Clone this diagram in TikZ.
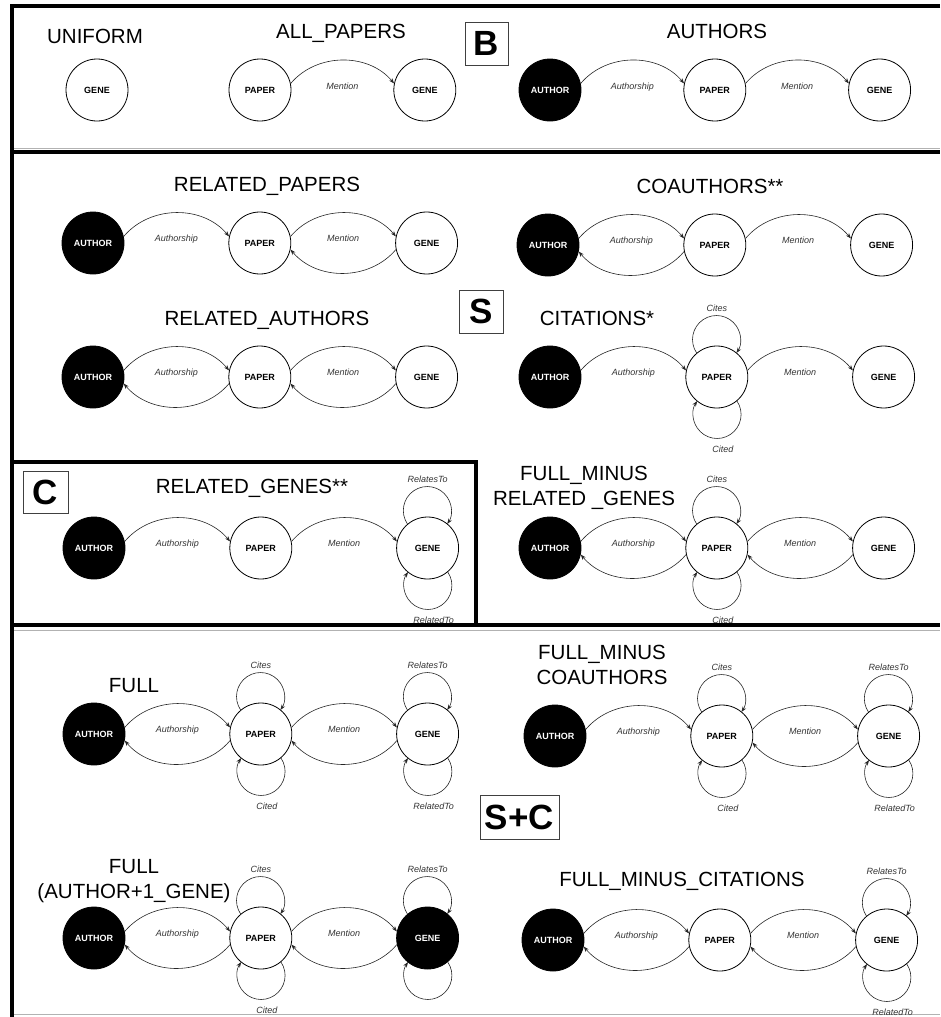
\documentclass[tikz,border=0pt]{standalone}
\usepackage{fontspec}
\setmainfont{Liberation Sans}
\usetikzlibrary{arrows.meta,positioning}

\begin{document}
\begin{tikzpicture}[
    x=1pt,y=-1pt,
    node distance=104pt,
    ent/.style={circle,draw,line width=0.8pt,minimum size=62pt,inner sep=0pt,font=\bfseries\fontsize{9}{10}\selectfont},
    dark/.style={ent,fill=black,text=white},
    ttl/.style={font=\fontsize{20.5}{24.5}\selectfont,align=center,anchor=base,inner sep=0pt},
    lbl/.style={font=\itshape\fontsize{9}{10}\selectfont,text=black!80,anchor=base,inner sep=0pt},
    tag/.style={draw=black!75,line width=0.8pt,font=\bfseries\fontsize{35}{35}\selectfont,inner sep=0pt,minimum height=43pt},
    arrow/.style={-{Stealth[length=5.5pt,width=4pt]},line width=0.6pt,draw=black!85},
    frame/.style={line width=3.5pt,line join=miter}
]
    \useasboundingbox (0,0) rectangle (940,1017);

    % frames
    \draw[frame] (940,6) -- (12,6) -- (12,1017);
    \draw[gray!60,line width=0.8pt] (14,148) -- (940,148);
    \draw[frame] (12,152) -- (940,152);
    \draw[frame] (12,462) -- (476,462) -- (476,625);
    \draw[frame] (12,625) -- (940,625);
    \draw[gray!60,line width=0.8pt] (14,630) -- (940,630);
    \draw[gray!60,line width=0.8pt] (14,1014) -- (940,1014);

    % tags
    \node[tag,minimum width=43pt] (tagB) at (486.5,43.5) {B};
    \node[tag,minimum width=44pt] (tagS) at (481,311.5) {S};
    \node[tag,minimum width=45pt,minimum height=42pt] (tagC) at (45.5,492) {C};
    \node[tag,minimum width=79pt,minimum height=44pt] (tagSC) at (519.5,817) {S+C};

    % UNIFORM
    \node[ttl] (tUni) at (95,43) {UNIFORM};
    \node[ent] (uniG) at (97,90) {GENE};

    % ALL_PAPERS
    \node[ttl] (tAll) at (341,38) {ALL\_PAPERS};
    \node[ent] (apP) at (260,90) {PAPER};
    \node[ent,right=102pt of apP] (apG) {GENE};
    \draw[arrow] (apP.12) to[bend left=50] node[lbl,yshift=-29pt] (apMe) {Mention} (apG.168);

    % AUTHORS
    \node[ttl] (tAu) at (717,38) {AUTHORS};
    \node[dark] (auA) at (550,90) {AUTHOR};
    \node[ent,right=102pt of auA] (auP) {PAPER};
    \node[ent,right=102pt of auP] (auG) {GENE};
    \draw[arrow] (auA.12) to[bend left=50] node[lbl,yshift=-29pt] (auAu) {Authorship} (auP.168);
    \draw[arrow] (auP.12) to[bend left=50] node[lbl,yshift=-29pt] (auMe) {Mention} (auG.168);

    % RELATED_PAPERS
    \node[ttl] (tRp) at (267,191) {RELATED\_PAPERS};
    \node[dark] (rpA) at (93,243) {AUTHOR};
    \node[ent,right=of rpA] (rpP) {PAPER};
    \node[ent,right=of rpP] (rpG) {GENE};
    \draw[arrow] (rpA.12) to[bend left=50] node[lbl,yshift=-29pt] (rpAu) {Authorship} (rpP.168);
    \draw[arrow] (rpP.12) to[bend left=50] node[lbl,yshift=-29pt] (rpMe) {Mention} (rpG.168);
    \draw[arrow] (rpG.192) to[bend left=50] (rpP.348);

    % COAUTHORS**
    \node[ttl] (tCo) at (710,193) {COAUTHORS**};
    \node[dark] (coA) at (548,245) {AUTHOR};
    \node[ent,right=of coA] (coP) {PAPER};
    \node[ent,right=of coP] (coG) {GENE};
    \draw[arrow] (coA.12) to[bend left=50] node[lbl,yshift=-29pt] (coAu) {Authorship} (coP.168);
    \draw[arrow] (coP.192) to[bend left=50] (coA.348);
    \draw[arrow] (coP.12) to[bend left=50] node[lbl,yshift=-29pt] (coMe) {Mention} (coG.168);

    % RELATED_AUTHORS
    \node[ttl] (tRa) at (267,325) {RELATED\_AUTHORS};
    \node[dark] (raA) at (93,377) {AUTHOR};
    \node[ent,right=of raA] (raP) {PAPER};
    \node[ent,right=of raP] (raG) {GENE};
    \draw[arrow] (raA.12) to[bend left=50] node[lbl,yshift=-29pt] (raAu) {Authorship} (raP.168);
    \draw[arrow] (raP.192) to[bend left=50] (raA.348);
    \draw[arrow] (raP.12) to[bend left=50] node[lbl,yshift=-29pt] (raMe) {Mention} (raG.168);
    \draw[arrow] (raG.192) to[bend left=50] (raP.348);

    % CITATIONS*
    \node[ttl] (tCi) at (597,325) {CITATIONS*};
    \node[dark] (ciA) at (550,377) {AUTHOR};
    \node[ent,right=of ciA] (ciP) {PAPER};
    \node[ent,right=of ciP] (ciG) {GENE};
    \draw[arrow] (ciA.12) to[bend left=50] node[lbl,yshift=-29pt] (ciAu) {Authorship} (ciP.168);
    \draw[arrow] (ciP.12) to[bend left=50] node[lbl,yshift=-29pt] (ciMe) {Mention} (ciG.168);
    \draw[arrow] (ciP.130) arc[start angle=214,end angle=-34,radius=24pt];
    \draw[arrow] (ciP.-50) arc[start angle=34,end angle=-214,radius=24pt];
    \node[lbl] (ciCs) at ([yshift=66pt]ciP.center) {Cites};
    \node[lbl] (ciCd) at ([xshift=6pt,yshift=-75pt]ciP.center) {Cited};

    % RELATED_GENES**
    \node[ttl] (tRg) at (252,493) {RELATED\_GENES**};
    \node[dark] (rgA) at (94,548) {AUTHOR};
    \node[ent,right=of rgA] (rgP) {PAPER};
    \node[ent,right=of rgP] (rgG) {GENE};
    \draw[arrow] (rgA.12) to[bend left=50] node[lbl,yshift=-29pt] (rgAu) {Authorship} (rgP.168);
    \draw[arrow] (rgP.12) to[bend left=50] node[lbl,yshift=-29pt] (rgMe) {Mention} (rgG.168);
    \draw[arrow] (rgG.130) arc[start angle=214,end angle=-34,radius=24pt];
    \draw[arrow] (rgG.-50) arc[start angle=34,end angle=-214,radius=24pt];
    \node[lbl] (rgRs) at ([yshift=66pt]rgG.center) {RelatesTo};
    \node[lbl] (rgRd) at ([xshift=6pt,yshift=-75pt]rgG.center) {RelatedTo};

    % FULL_MINUS RELATED _GENES
    \node[ttl] (tFmr) at (584,505) {FULL\_MINUS\\RELATED \_GENES};
    \node[dark] (fmrA) at (550,548) {AUTHOR};
    \node[ent,right=of fmrA] (fmrP) {PAPER};
    \node[ent,right=of fmrP] (fmrG) {GENE};
    \draw[arrow] (fmrA.12) to[bend left=50] node[lbl,yshift=-29pt] (fmrAu) {Authorship} (fmrP.168);
    \draw[arrow] (fmrP.192) to[bend left=50] (fmrA.348);
    \draw[arrow] (fmrP.12) to[bend left=50] node[lbl,yshift=-29pt] (fmrMe) {Mention} (fmrG.168);
    \draw[arrow] (fmrG.192) to[bend left=50] (fmrP.348);
    \draw[arrow] (fmrP.130) arc[start angle=214,end angle=-34,radius=24pt];
    \draw[arrow] (fmrP.-50) arc[start angle=34,end angle=-214,radius=24pt];
    \node[lbl] (fmrCs) at ([yshift=66pt]fmrP.center) {Cites};
    \node[lbl] (fmrCd) at ([xshift=6pt,yshift=-75pt]fmrP.center) {Cited};

    % FULL
    \node[ttl] (tFu) at (134,692) {FULL};
    \node[dark] (fuA) at (94,734) {AUTHOR};
    \node[ent,right=of fuA] (fuP) {PAPER};
    \node[ent,right=of fuP] (fuG) {GENE};
    \draw[arrow] (fuA.12) to[bend left=50] node[lbl,yshift=-29pt] (fuAu) {Authorship} (fuP.168);
    \draw[arrow] (fuP.192) to[bend left=50] (fuA.348);
    \draw[arrow] (fuP.12) to[bend left=50] node[lbl,yshift=-29pt] (fuMe) {Mention} (fuG.168);
    \draw[arrow] (fuG.192) to[bend left=50] (fuP.348);
    \draw[arrow] (fuP.130) arc[start angle=214,end angle=-34,radius=24pt];
    \draw[arrow] (fuP.-50) arc[start angle=34,end angle=-214,radius=24pt];
    \draw[arrow] (fuG.130) arc[start angle=214,end angle=-34,radius=24pt];
    \draw[arrow] (fuG.-50) arc[start angle=34,end angle=-214,radius=24pt];
    \node[lbl] (fuCs) at ([yshift=66pt]fuP.center) {Cites};
    \node[lbl] (fuCd) at ([xshift=6pt,yshift=-75pt]fuP.center) {Cited};
    \node[lbl] (fuRs) at ([yshift=66pt]fuG.center) {RelatesTo};
    \node[lbl] (fuRd) at ([xshift=6pt,yshift=-75pt]fuG.center) {RelatedTo};

    % FULL_MINUS COAUTHORS
    \node[ttl] (tFmc) at (602,684) {FULL\_MINUS\\COAUTHORS};
    \node[dark] (fmcA) at (555,736) {AUTHOR};
    \node[ent,right=of fmcA] (fmcP) {PAPER};
    \node[ent,right=of fmcP] (fmcG) {GENE};
    \draw[arrow] (fmcA.12) to[bend left=50] node[lbl,yshift=-29pt] (fmcAu) {Authorship} (fmcP.168);
    \draw[arrow] (fmcP.12) to[bend left=50] node[lbl,yshift=-29pt] (fmcMe) {Mention} (fmcG.168);
    \draw[arrow] (fmcG.192) to[bend left=50] (fmcP.348);
    \draw[arrow] (fmcP.130) arc[start angle=214,end angle=-34,radius=24pt];
    \draw[arrow] (fmcP.-50) arc[start angle=34,end angle=-214,radius=24pt];
    \draw[arrow] (fmcG.130) arc[start angle=214,end angle=-34,radius=24pt];
    \draw[arrow] (fmcG.-50) arc[start angle=34,end angle=-214,radius=24pt];
    \node[lbl] (fmcCs) at ([yshift=66pt]fmcP.center) {Cites};
    \node[lbl] (fmcCd) at ([xshift=6pt,yshift=-75pt]fmcP.center) {Cited};
    \node[lbl] (fmcRs) at ([yshift=66pt]fmcG.center) {RelatesTo};
    \node[lbl] (fmcRd) at ([xshift=6pt,yshift=-75pt]fmcG.center) {RelatedTo};

    % FULL (AUTHOR+1_GENE)
    \node[ttl] (tFag) at (134,898) {FULL\\(AUTHOR+1\_GENE)};
    \node[dark] (fagA) at (94,938) {AUTHOR};
    \node[ent,right=of fagA] (fagP) {PAPER};
    \node[dark,right=of fagP] (fagG) {GENE};
    \draw[arrow] (fagA.12) to[bend left=50] node[lbl,yshift=-29pt] (fagAu) {Authorship} (fagP.168);
    \draw[arrow] (fagP.192) to[bend left=50] (fagA.348);
    \draw[arrow] (fagP.12) to[bend left=50] node[lbl,yshift=-29pt] (fagMe) {Mention} (fagG.168);
    \draw[arrow] (fagG.192) to[bend left=50] (fagP.348);
    \draw[arrow] (fagP.130) arc[start angle=214,end angle=-34,radius=24pt];
    \draw[arrow] (fagP.-50) arc[start angle=34,end angle=-214,radius=24pt];
    \draw[arrow] (fagG.130) arc[start angle=214,end angle=-34,radius=24pt];
    \draw[arrow] (fagG.-50) arc[start angle=34,end angle=-214,radius=24pt];
    \node[lbl] (fagCs) at ([yshift=66pt]fagP.center) {Cites};
    \node[lbl] (fagCd) at ([xshift=6pt,yshift=-75pt]fagP.center) {Cited};
    \node[lbl] (fagRs) at ([yshift=66pt]fagG.center) {RelatesTo};

    % FULL_MINUS_CITATIONS
    \node[ttl] (tFmci) at (682,886) {FULL\_MINUS\_CITATIONS};
    \node[dark] (fmciA) at (553,940) {AUTHOR};
    \node[ent,right=of fmciA] (fmciP) {PAPER};
    \node[ent,right=of fmciP] (fmciG) {GENE};
    \draw[arrow] (fmciA.12) to[bend left=50] node[lbl,yshift=-29pt] (fmciAu) {Authorship} (fmciP.168);
    \draw[arrow] (fmciP.192) to[bend left=50] (fmciA.348);
    \draw[arrow] (fmciP.12) to[bend left=50] node[lbl,yshift=-29pt] (fmciMe) {Mention} (fmciG.168);
    \draw[arrow] (fmciG.192) to[bend left=50] (fmciP.348);
    \draw[arrow] (fmciG.130) arc[start angle=214,end angle=-34,radius=24pt];
    \draw[arrow] (fmciG.-50) arc[start angle=34,end angle=-214,radius=24pt];
    \node[lbl] (fmciRs) at ([yshift=66pt]fmciG.center) {RelatesTo};
    \node[lbl] (fmciRd) at ([xshift=6pt,yshift=-75pt]fmciG.center) {RelatedTo};
\end{tikzpicture}
\end{document}
